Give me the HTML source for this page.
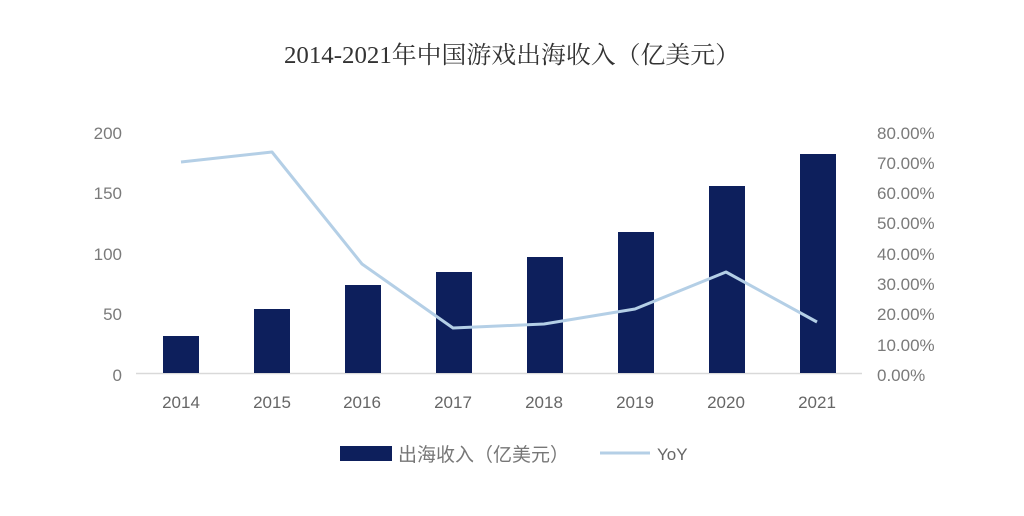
<!DOCTYPE html>
<html><head><meta charset="utf-8"><style>
html,body{margin:0;padding:0;background:#fff;}
svg{display:block;}
</style></head><body>
<svg width="1024" height="516" viewBox="0 0 1024 516" xmlns="http://www.w3.org/2000/svg">
<rect width="1024" height="516" fill="#fff"/>
<text x="512" y="63" text-anchor="middle" font-family="'Liberation Serif','Noto Serif CJK SC',serif" font-size="24" fill="#333" textLength="456" lengthAdjust="spacingAndGlyphs">2014-2021年中国游戏出海收入（亿美元）</text>
<g font-family="'Liberation Sans',sans-serif" font-size="17" fill="#7a7a7a" text-anchor="end">
<text x="122" y="139">200</text>
<text x="122" y="199">150</text>
<text x="122" y="260">100</text>
<text x="122" y="320">50</text>
<text x="122" y="381">0</text>
</g>
<g font-family="'Liberation Sans',sans-serif" font-size="17" fill="#7a7a7a">
<text x="877" y="139">80.00%</text>
<text x="877" y="169">70.00%</text>
<text x="877" y="199">60.00%</text>
<text x="877" y="229">50.00%</text>
<text x="877" y="260">40.00%</text>
<text x="877" y="290">30.00%</text>
<text x="877" y="320">20.00%</text>
<text x="877" y="351">10.00%</text>
<text x="877" y="381">0.00%</text>
</g>
<line x1="136" y1="373.5" x2="862" y2="373.5" stroke="#d9d9d9" stroke-width="1.5"/>
<g fill="#0d1f5c">
<rect x="163" y="336" width="36" height="37"/>
<rect x="254" y="309" width="36" height="64"/>
<rect x="345" y="285" width="36" height="88"/>
<rect x="436" y="272" width="36" height="101"/>
<rect x="527" y="257" width="36" height="116"/>
<rect x="618" y="232" width="36" height="141"/>
<rect x="709" y="186" width="36" height="187"/>
<rect x="800" y="154" width="36" height="219"/>
</g>
<polyline points="181,162 272,152 362,264 453,328 544,324 635,309 726,272 817,322" fill="none" stroke="#b4cfe6" stroke-width="3" stroke-linejoin="round"/>
<g font-family="'Liberation Sans',sans-serif" font-size="17" fill="#666" text-anchor="middle">
<text x="181" y="408">2014</text>
<text x="272" y="408">2015</text>
<text x="362" y="408">2016</text>
<text x="453" y="408">2017</text>
<text x="544" y="408">2018</text>
<text x="635" y="408">2019</text>
<text x="726" y="408">2020</text>
<text x="817" y="408">2021</text>
</g>
<rect x="340" y="446" width="52" height="15" fill="#0d1f5c"/>
<text x="398" y="461" font-family="'Liberation Sans','Noto Sans CJK SC',sans-serif" font-size="19" fill="#777">出海收入（亿美元）</text>
<line x1="600" y1="453" x2="650" y2="453" stroke="#b4cfe6" stroke-width="3"/>
<text x="657" y="460" font-family="'Liberation Sans',sans-serif" font-size="17" fill="#666">YoY</text>
</svg>
</body></html>
